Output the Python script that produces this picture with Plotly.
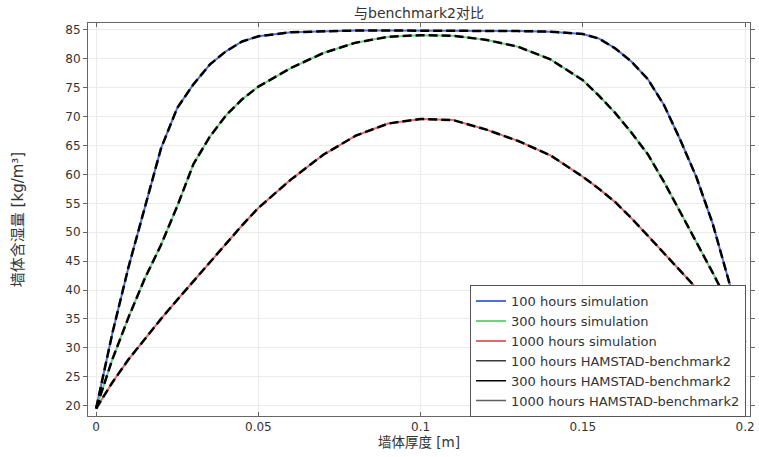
import plotly.graph_objects as go

thickness = [0, 0.005, 0.01, 0.015, 0.02, 0.025, 0.03, 0.035, 0.04, 0.045, 0.05, 0.06,
             0.07, 0.08, 0.09, 0.10, 0.11, 0.12, 0.13, 0.14, 0.15, 0.155, 0.16, 0.165,
             0.17, 0.175, 0.18, 0.185, 0.19, 0.195, 0.2]

moist_100h = [19.5, 32.5, 44.0, 54.5, 64.5, 71.5, 75.6, 79.0, 81.3, 83.0, 83.9, 84.6,
              84.8, 84.9, 84.9, 84.9, 84.9, 84.9, 84.8, 84.7, 84.3, 83.5, 81.8, 79.5,
              76.5, 72.0, 66.0, 59.5, 51.5, 41.5, 31.0]
moist_300h = [19.5, 28.0, 35.3, 42.0, 47.8, 54.5, 61.8, 66.5, 70.2, 73.0, 75.2, 78.4,
              81.0, 82.8, 83.8, 84.1, 84.0, 83.3, 82.1, 79.9, 76.3, 73.6, 70.6, 67.2,
              63.5, 58.7, 53.5, 48.3, 43.0, 37.5, 31.0]
moist_1000h = [19.5, 24.0, 28.0, 31.6, 35.0, 38.3, 41.5, 44.8, 48.0, 51.2, 54.2, 59.1,
               63.4, 66.7, 68.8, 69.6, 69.4, 67.8, 65.8, 63.3, 59.6, 57.5, 55.2, 52.4,
               49.4, 46.4, 43.3, 40.3, 37.2, 34.1, 31.0]

sim_names = ["100 hours simulation", "300 hours simulation", "1000 hours simulation"]
ref_names = ["100 hours HAMSTAD-benchmark2", "300 hours HAMSTAD-benchmark2",
             "1000 hours HAMSTAD-benchmark2"]
series = [moist_100h, moist_300h, moist_1000h]

sim_colors = ["#4f6fd8", "#6fd07f", "#e06a6a"]
ref_colors = ["#3a3a3a", "#000000", "#606060"]

font_fam = "DejaVu Sans, Noto Sans CJK SC, sans-serif"

fig = go.Figure()
for name, ys, c in zip(sim_names, series, sim_colors):
    fig.add_trace(go.Scatter(x=thickness, y=ys, mode="lines", name=name,
                             line=dict(color=c, width=2)))
# benchmark curves (dashed black); legend entries shown as solid lines below
for name, ys in zip(ref_names, series):
    fig.add_trace(go.Scatter(x=thickness, y=ys, mode="lines", name=name,
                             legendgroup=name, showlegend=False,
                             line=dict(color="#000000", width=2.5, dash="9px,4px")))
for name, c in zip(ref_names, ref_colors):
    fig.add_trace(go.Scatter(x=[None], y=[None], mode="lines", name=name,
                             legendgroup=name, line=dict(color=c, width=1.5)))

axis_common = dict(showgrid=True, gridcolor="#ebebeb", gridwidth=1,
                   showline=True, linecolor="#666666", linewidth=1, mirror="ticks",
                   ticklen=4, tickcolor="#666666", zeroline=False,
                   automargin=False,
                   tickfont=dict(family=font_fam, size=12, color="#333333"))

W, H = 759, 457
fig.update_layout(
    width=W, height=H,
    margin=dict(l=88, r=9, t=23, b=41),
    paper_bgcolor="white", plot_bgcolor="white",
    title=dict(text="与benchmark2对比", x=(88 + 750) / 2 / W, xanchor="center",
               yref="container", y=1 - 13 / H, yanchor="middle",
               font=dict(family=font_fam, size=14, color="#333333")),
    xaxis=dict(range=[-0.0025, 0.2015], tickvals=[0, 0.05, 0.1, 0.15, 0.2],
               ticktext=["0", "0.05", "0.1", "0.15", "0.2"], ticks="inside",
               title=dict(text="墙体厚度 [m]", standoff=0,
                          font=dict(family=font_fam, size=13.5, color="#333333")),
               **axis_common),
    yaxis=dict(range=[18.2, 86.2], tickvals=list(range(20, 90, 5)), ticks="outside",
               title=dict(text="墙体含湿量 [kg/m³]", standoff=38,
                          font=dict(family=font_fam, size=15, color="#333333")),
               **axis_common),
    legend=dict(x=0.994, y=0.165, xanchor="right", yanchor="middle",
                bgcolor="white", bordercolor="#555555", borderwidth=1,
                font=dict(family=font_fam, size=13, color="#333333"),
                tracegroupgap=0, itemwidth=30),
    showlegend=True,
)

# remove the browser's default 8px body margin so the figure fills the window
fig.write_html("out.html", config={"displayModeBar": False},
               post_script="document.body.style.margin='0px';document.body.style.overflow='hidden';")
